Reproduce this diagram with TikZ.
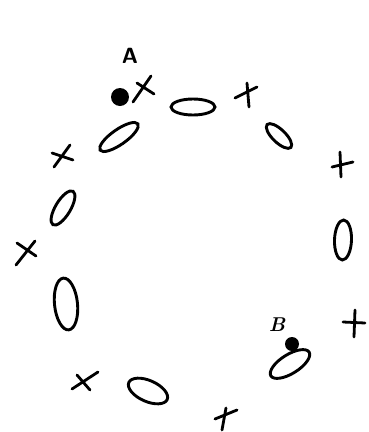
\documentclass[tikz,border=0pt]{standalone}
\usetikzlibrary{shapes.geometric}
\begin{document}
\begin{tikzpicture}[x=1pt,y=-1pt,
  ring/.style={draw,ellipse,line width=2.9pt,inner sep=0pt},
  xstroke/.style={line width=2.8pt,line cap=round},
  blob/.style={circle,fill=black,inner sep=0pt},
  lab/.style={font=\sffamily\bfseries\fontsize{22}{22}\selectfont}]
\useasboundingbox (0,0) rectangle (368,432);
% labels
\node[lab] (A) at (130,56) {A};
\node[lab,font=\itshape\bfseries\fontsize{20}{20}\selectfont] (B) at (277,325) {B};
% dots
\node[blob,minimum size=18pt] (dA) at (120,97) {};
\node[blob,minimum size=14pt] (dB) at (292,344) {};
% ellipses
\node[ring,minimum width=44pt,minimum height=16pt] (e1) at (193,107) {};
\node[ring,minimum width=46pt,minimum height=15pt,rotate=35] (e2) at (119,137) {};
\node[ring,minimum width=33pt,minimum height=13pt,rotate=-44] (e3) at (279,136) {};
\node[ring,minimum width=40pt,minimum height=17pt,rotate=88] (e4) at (343,240) {};
\node[ring,minimum width=45pt,minimum height=19pt,rotate=32] (e5) at (290,364) {};
\node[ring,minimum width=42pt,minimum height=21pt,rotate=-24] (e6) at (148,391) {};
\node[ring,minimum width=52pt,minimum height=23pt,rotate=96] (e7) at (66,304) {};
\node[ring,minimum width=39pt,minimum height=15pt,rotate=59] (e8) at (63,208) {};
% crosses
\draw[xstroke] (133,102) -- (151,76) (137,83) -- (154,94);
\draw[xstroke] (235,98) -- (257,87) (247,83) -- (249,107);
\draw[xstroke] (332,167) -- (353,162) (340,152) -- (341,177);
\draw[xstroke] (343,322) -- (365,323) (355,310) -- (354,337);
\draw[xstroke] (215,419) -- (237,410) (226,408) -- (222,430);
\draw[xstroke] (72,389) -- (98,372) (77,375) -- (90,390);
\draw[xstroke] (17,243) -- (36,256) (16,265) -- (35,241);
\draw[xstroke] (52,153) -- (73,160) (54,167) -- (70,145);
\end{tikzpicture}
\end{document}
